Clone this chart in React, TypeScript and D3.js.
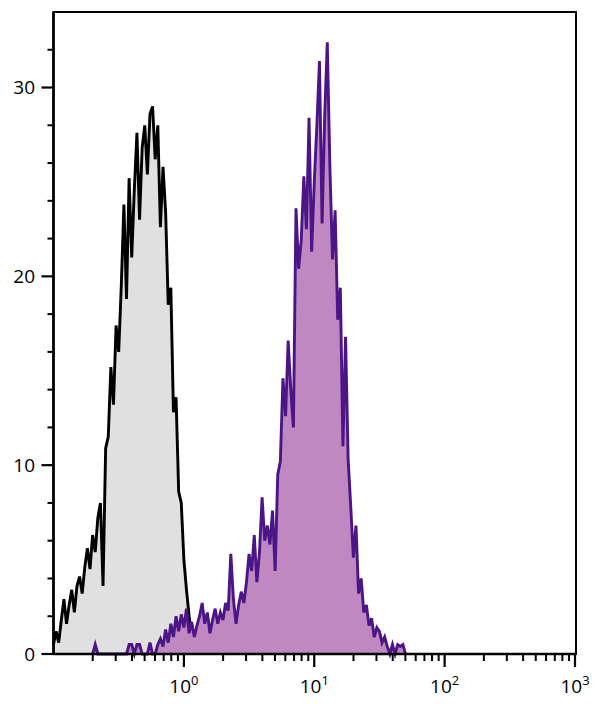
import React from 'react';
import * as d3 from 'd3';

// Histogram channels: log10 of the first channel and spacing between channels
const STEP = 0.02;
const CONTROL_START = -1.0;
const STAINED_START = -0.7;

// Unstained control (grey)
const controlCounts = [
  0.5, 1.2, 0.6, 1.8, 2.9, 1.6, 2.6, 3.4, 2.2, 3.6,
  4.1, 3.2, 4.6, 5.6, 4.5, 6.3, 5.4, 7.2, 8.0, 3.6,
  10.9, 11.5, 15.2, 13.2, 17.4, 16.0, 19.5, 23.8, 18.8, 25.2,
  21.0, 24.6, 27.6, 23.0, 26.8, 28.0, 25.4, 28.6, 29.0, 26.2,
  28.0, 22.6, 25.8, 23.4, 18.5, 19.4, 12.8, 13.6, 8.6, 8.0,
  5.0, 3.4, 2.0, 1.0, 0.4, 0,
];

// Stained sample (purple)
const stainedCounts = [
  0, 0.5, 0,
  0, 0, 0, 0, 0, 0, 0, 0, 0, 0, 0,
  0.5, 0.5, 0, 0.5, 0.5, 0, 0, 0,
  0.6, 0, 0, 0.5, 0.8, 0.4, 1.3, 0.6,
  1.6, 0.9, 2.0, 1.2, 2.1, 1.4, 2.4, 1.1, 1.7, 0.9,
  1.5, 2.0, 2.7, 1.6, 2.2, 1.1, 1.8, 2.4, 1.6, 2.2,
  1.8, 2.7, 2.3, 5.3, 2.9, 1.6, 2.6, 3.3, 2.7, 3.8,
  5.3, 4.4, 6.3, 3.8, 5.4, 8.3, 6.0, 6.8, 5.8, 7.6,
  4.4, 9.5, 10.2, 14.6, 12.6, 16.6, 14.0, 12.0, 23.6, 20.4,
  21.9, 25.3, 22.5, 28.4, 21.3, 25.0, 28.0, 31.4, 22.8, 28.5,
  32.4, 25.8, 20.9, 23.5, 17.7, 19.4, 11.0, 16.8, 10.3, 7.8,
  5.1, 6.8, 3.2, 4.0, 2.2, 2.6, 1.5, 1.9, 0.9, 1.4,
  1.2, 0.6, 0.9, 0.4, 0, 0.5, 0, 0.5, 0.4, 0.5, 0,
];

const yTicks = [0, 10, 20, 30];
const decades = [0, 1, 2, 3];

const W = 600;
const H = 704;
const left = 53.5;
const right = 575;
const top = 12;
const bottom = 654;

type Pt = { v: number; c: number };

function toPoints(start: number, counts: number[]): Pt[] {
  return counts.map((c, i) => ({ v: Math.pow(10, start + i * STEP), c }));
}

export default function App() {
  const x = d3.scaleLog().domain([0.1, 1000]).range([left, right]);
  const y = d3.scaleLinear().domain([0, 34]).range([bottom, top]);

  const area = d3.area<Pt>().x(d => x(d.v)).y0(y(0)).y1(d => y(d.c));
  const line = d3.line<Pt>().x(d => x(d.v)).y(d => y(d.c));

  const control = toPoints(CONTROL_START, controlCounts);
  const stained = toPoints(STAINED_START, stainedCounts);

  // minor ticks 2..9 in each decade
  const minorX: number[] = [];
  for (let e = -1; e < 3; e++) {
    for (let m = 2; m <= 9; m++) minorX.push(m * Math.pow(10, e));
  }
  const minorY = d3.range(2, 34, 2).filter(v => v % 10 !== 0);

  const font = '"Open Sans", "Noto Sans", sans-serif';

  return (
    <svg width={W} height={H} style={{ position: 'absolute', left: 0, top: 0, background: '#fff' }}>
      {/* histograms */}
      <path d={area(control)!} fill="#e0e0e0" />
      <path d={line(control)!} fill="none" stroke="#000" strokeWidth={2.9} />
      <path d={area(stained)!} fill="#bf88c1" />
      <path d={line(stained)!} fill="none" stroke="#4b1587" strokeWidth={2.9} />

      {/* frame */}
      <rect x={left} y={top} width={576 - left} height={bottom - top} fill="none" stroke="#000" strokeWidth={2} />
      <line x1={left} x2={576} y1={bottom} y2={bottom} stroke="#000" strokeWidth={2.6} />
      <line x1={left} x2={left} y1={top} y2={bottom} stroke="#000" strokeWidth={2.6} />

      {/* y axis ticks */}
      {yTicks.map(t => (
        <g key={'y' + t}>
          <line x1={left - 12} x2={left} y1={y(t)} y2={y(t)} stroke="#000" strokeWidth={2.2} />
          <text x={35} y={y(t)} dy="0.36em" textAnchor="end" fontSize={19} fontFamily={font} fill="#000">
            {t}
          </text>
        </g>
      ))}
      {minorY.map(t => (
        <line key={'my' + t} x1={left - 6} x2={left} y1={y(t)} y2={y(t)} stroke="#000" strokeWidth={2} />
      ))}

      {/* x axis ticks */}
      {minorX.map(v => (
        <line key={'mx' + v} x1={x(v)} x2={x(v)} y1={bottom} y2={bottom + 7} stroke="#000" strokeWidth={2} />
      ))}
      {decades.map(e => (
        <g key={'x' + e}>
          <line x1={x(Math.pow(10, e))} x2={x(Math.pow(10, e))} y1={bottom} y2={bottom + 13} stroke="#000" strokeWidth={2.2} />
          <text x={x(Math.pow(10, e))} y={693} textAnchor="middle" fontSize={19} fontFamily={font} fill="#000">
            10
            <tspan fontSize={13} dy={-8}>{e}</tspan>
          </text>
        </g>
      ))}
    </svg>
  );
}
